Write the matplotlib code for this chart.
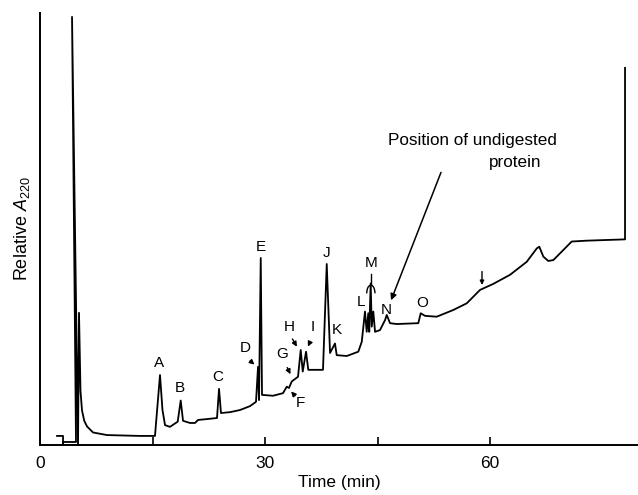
import matplotlib
matplotlib.use("Agg")
import matplotlib.pyplot as plt
from matplotlib.patches import Arc

plt.rcParams['font.family'] = ['Liberation Sans', 'DejaVu Sans']
plt.rcParams['mathtext.fontset'] = 'custom'
plt.rcParams['mathtext.rm'] = 'Liberation Sans'
plt.rcParams['mathtext.it'] = 'Liberation Sans:italic'

# Chromatogram trace (time in min, relative absorbance)
time_min = [2.27, 3.07, 3.07, 3.07, 4.8, 4.27, 5.07, 5.2, 5.4, 5.6, 5.9, 6.27, 7.07, 8.93,
            13.33, 15.33, 16.0, 16.33, 16.67, 17.33, 18.36, 18.76, 19.07, 20.0, 20.67,
            21.07, 22.27, 23.6, 23.87, 24.13, 25.33, 26.67, 28.0, 28.8, 29.07, 29.2,
            29.43, 29.6, 31.07, 32.4, 32.9, 33.2, 33.56, 34.4, 34.76, 35.03, 35.47,
            35.77, 37.73, 38.23, 38.67, 39.33, 39.56, 40.9, 42.44, 42.9, 43.33, 43.56,
            43.77, 43.9, 44.09, 44.23, 44.44, 44.67, 45.33, 46.0, 46.23, 46.67, 47.56,
            50.44, 50.76, 51.33, 52.89, 55.1, 56.9, 58.67, 60.44, 62.67, 64.89, 66.23,
            66.57, 67.11, 67.77, 68.44, 70.89, 72.89, 78.0, 78.0]
absorb = [2.1, 2.1, 0.0, 0.7, 0.7, 99.1, 0.0, 30.6, 12.5, 8.0, 5.6, 4.3, 2.9, 2.3,
          2.1, 2.1, 16.2, 8.1, 4.6, 4.2, 5.4, 10.3, 5.6, 5.1, 5.1,
          5.8, 6.0, 6.25, 13.0, 7.4, 7.6, 8.1, 9.0, 10.0, 18.1, 10.4,
          43.3, 11.6, 11.4, 12.0, 13.5, 13.2, 14.7, 15.8, 22.0, 17.0, 21.6,
          17.4, 17.4, 41.9, 21.3, 23.5, 20.8, 20.6, 21.6, 23.9, 30.9, 26.2,
          30.5, 26.2, 37.4, 27.4, 30.9, 26.2, 26.6, 28.9, 30.1, 28.2, 28.0,
          28.2, 30.5, 29.9, 29.7, 31.25, 32.8, 35.9, 37.3, 39.4, 42.4, 45.5,
          45.9, 43.6, 42.6, 42.8, 47.1, 47.3, 47.6, 87.3]

peak_labels = ['A', 'B', 'C', 'D', 'E', 'F', 'G', 'H', 'I', 'J', 'K', 'L', 'M', 'N', 'O']
label_t = [15.87, 18.67, 23.67, 27.33, 29.47, 34.76, 32.31, 33.2, 36.36, 38.23, 39.64, 42.76, 44.09, 46.23, 50.89]
label_a = [19.0, 13.2, 15.7, 22.5, 45.9, 9.7, 21.0, 27.2, 27.2, 44.4, 26.6, 33.2, 42.2, 31.25, 32.9]

xticks = [0, 30, 60]
xtick_labels = ['0', '30', '60']
minor_ticks = [15, 45]

fig = plt.figure(figsize=(6.38, 4.95), dpi=100)
ax = fig.add_axes([40/638, 50/495, 598/638, 432/495])
ax.plot(time_min, absorb, color='black', lw=1.3, solid_joinstyle='round')
ax.set_xlim(0, 79.73)
ax.set_ylim(0, 100)

for s in ['top', 'right']:
    ax.spines[s].set_visible(False)
for s in ['left', 'bottom']:
    ax.spines[s].set_linewidth(1.4)
ax.set_yticks([])
ax.set_xticks(xticks)
ax.set_xticklabels(xtick_labels, fontsize=12.5)
ax.set_xticks(minor_ticks, minor=True)
ax.tick_params(axis='x', which='both', direction='in', length=6, width=1.2, pad=8)
ax.set_xlabel('Time (min)', fontsize=12.5, labelpad=3)
ax.set_ylabel('Relative $\\mathit{A}_{220}$', fontsize=13, labelpad=6)

for lab, t, a in zip(peak_labels, label_t, label_a):
    ax.text(t, a, lab, fontsize=11, ha='center', va='center')

arrow_kw = dict(arrowstyle='-|>', color='black', lw=1.0, mutation_scale=7)
ax.annotate('', xy=(28.89, 18.2), xytext=(27.73, 19.9), arrowprops=arrow_kw)
ax.annotate('', xy=(33.24, 12.9), xytext=(34.23, 10.9), arrowprops=arrow_kw)
ax.annotate('', xy=(33.56, 15.8), xytext=(32.8, 18.5), arrowprops=arrow_kw)
ax.annotate('', xy=(34.44, 22.2), xytext=(33.47, 25.1), arrowprops=arrow_kw)
ax.annotate('', xy=(35.56, 22.2), xytext=(36.13, 24.3), arrowprops=arrow_kw)
ax.annotate('', xy=(46.67, 32.9), xytext=(53.6, 63.7), arrowprops=dict(arrowstyle='-|>', color='black', lw=1.1, mutation_scale=9))
ax.annotate('', xy=(58.93, 36.4), xytext=(58.93, 40.8), arrowprops=dict(arrowstyle='-|>', color='black', lw=1.0, mutation_scale=6))

# M bracket
ax.plot([44.09, 44.09], [39.6, 37.0], color='black', lw=1.0)
ax.add_patch(Arc((44.11, 35.1), 1.1, 3.8, theta1=0, theta2=180, color='black', lw=1.0))

ax.text(57.6, 70.6, 'Position of undigested', fontsize=12.3, ha='center', va='center')
ax.text(63.3, 65.5, 'protein', fontsize=12.3, ha='center', va='center')

fig.savefig('out.png', dpi=100)
